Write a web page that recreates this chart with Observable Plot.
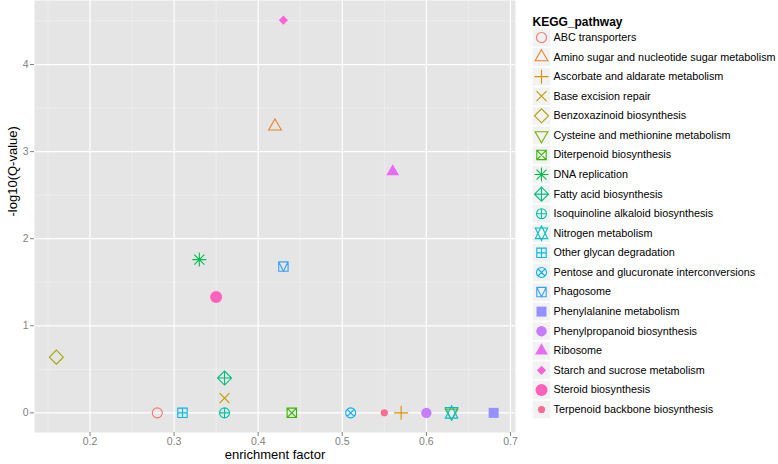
<!DOCTYPE html>
<html>
<head>
<meta charset="utf-8">
<script src="https://cdn.jsdelivr.net/npm/d3@7"></script>
<script src="https://cdn.jsdelivr.net/npm/@observablehq/plot@0.6"></script>
<style>
  html, body { margin: 0; padding: 0; background: #ffffff; }
  #wrap { display: flex; flex-direction: row; width: 778px; height: 464px; }
  svg { display: block; }
</style>
</head>
<body>
<div id="wrap"></div>
<script>
// ---------- data ----------
const pathways = [
  "ABC transporters",
  "Amino sugar and nucleotide sugar metabolism",
  "Ascorbate and aldarate metabolism",
  "Base excision repair",
  "Benzoxazinoid biosynthesis",
  "Cysteine and methionine metabolism",
  "Diterpenoid biosynthesis",
  "DNA replication",
  "Fatty acid biosynthesis",
  "Isoquinoline alkaloid biosynthesis",
  "Nitrogen metabolism",
  "Other glycan degradation",
  "Pentose and glucuronate interconversions",
  "Phagosome",
  "Phenylalanine metabolism",
  "Phenylpropanoid biosynthesis",
  "Ribosome",
  "Starch and sucrose metabolism",
  "Steroid biosynthesis",
  "Terpenoid backbone biosynthesis"
];
const enrichmentFactor = [0.28, 0.42, 0.57, 0.36, 0.16, 0.63, 0.44, 0.33, 0.36, 0.36, 0.63, 0.31, 0.51, 0.43, 0.68, 0.60, 0.56, 0.43, 0.35, 0.55];
const negLog10Q = [0, 3.29, 0, 0.17, 0.64, 0, 0, 1.76, 0.40, 0, 0, 0, 0, 1.68, 0, 0, 2.77, 4.51, 1.33, 0];
const palette = ["#F8766D","#EA8331","#D89000","#C09B00","#A3A500","#7CAE00","#39B600","#00BB4E","#00BF7D","#00C1A3",
                 "#00BFC4","#00BAE0","#00B0F6","#35A2FF","#9590FF","#C77CFF","#E76BF3","#FA62DB","#FF62BC","#FF6C91"];
const xTicks = [0.2, 0.3, 0.4, 0.5, 0.6, 0.7];
const xMinor = [0.15, 0.25, 0.35, 0.45, 0.55, 0.65];
const yTicks = [0, 1, 2, 3, 4];
const yMinor = [0.5, 1.5, 2.5, 3.5, 4.5];
const xLabel = "enrichment factor";
const yLabel = "-log10(Q-value)";
const legendTitle = "KEGG_pathway";

// ---------- ggplot-like point shapes (R pch 1..20) ----------
const circ = (c, r) => { c.moveTo(r, 0); c.arc(0, 0, r, 0, 2 * Math.PI); };
const line = (c, a, b, d, e) => { c.moveTo(a, b); c.lineTo(d, e); };
const poly = (c, pts) => { c.moveTo(pts[0][0], pts[0][1]); for (let i = 1; i < pts.length; i++) c.lineTo(pts[i][0], pts[i][1]); c.closePath(); };
const sq = (c, h) => poly(c, [[-h, -h], [h, -h], [h, h], [-h, h]]);
const plus = (c, h) => { line(c, -h, 0, h, 0); line(c, 0, -h, 0, h); };
const cross = (c, h) => { line(c, -h, -h, h, h); line(c, -h, h, h, -h); };
const diam = (c, h) => poly(c, [[0, -h], [h, 0], [0, h], [-h, 0]]);
const triUp = (c) => poly(c, [[0, -7.4], [6.4, 3.7], [-6.4, 3.7]]);
const triDown = (c) => poly(c, [[0, 7.4], [6.4, -3.7], [-6.4, -3.7]]);
function mk(fn, filled) {
  return {
    filled,
    draw(context, size) {
      const k = Math.sqrt(size / Math.PI) / 5;
      const c = {
        moveTo: (x, y) => context.moveTo(x * k, y * k),
        lineTo: (x, y) => context.lineTo(x * k, y * k),
        arc: (x, y, r, a0, a1) => context.arc(x * k, y * k, r * k, a0, a1),
        closePath: () => context.closePath()
      };
      fn(c);
    }
  };
}
const symbols = [
  mk(c => circ(c, 5), false),                                  // 1
  mk(c => triUp(c), false),                                    // 2
  mk(c => plus(c, 7), false),                                  // 3
  mk(c => cross(c, 5), false),                                 // 4
  mk(c => diam(c, 7), false),                                  // 5
  mk(c => triDown(c), false),                                  // 6
  mk(c => { sq(c, 4.7); cross(c, 4.7); }, false),              // 7
  mk(c => { plus(c, 7); cross(c, 5); }, false),                // 8
  mk(c => { diam(c, 7); plus(c, 7); }, false),                 // 9
  mk(c => { circ(c, 5); plus(c, 5); }, false),                 // 10
  mk(c => { poly(c, [[0, -7.2], [6.2, 5.3], [-6.2, 5.3]]); poly(c, [[0, 7.2], [6.2, -5.3], [-6.2, -5.3]]); }, false), // 11
  mk(c => { sq(c, 4.7); plus(c, 4.7); }, false),               // 12
  mk(c => { circ(c, 5); cross(c, 3.54); }, false),             // 13
  mk(c => { sq(c, 4.7); c.moveTo(-4.7, -4.7); c.lineTo(0, 4.7); c.lineTo(4.7, -4.7); }, false), // 14
  mk(c => sq(c, 5), true),                                     // 15
  mk(c => circ(c, 5.2), true),                                 // 16
  mk(c => triUp(c), true),                                     // 17
  mk(c => diam(c, 4.6), true),                                 // 18
  mk(c => circ(c, 6), true),                                   // 19
  mk(c => circ(c, 3.6), true)                                  // 20
];

const data = pathways.map((p, i) => ({pathway: p, x: enrichmentFactor[i], y: negLog10Q[i], filled: symbols[i].filled}));
const openPts = data.filter(d => !d.filled);
const filledPts = data.filter(d => d.filled);

const FONT = "'Liberation Sans', Arial, Helvetica, sans-serif";
const symbolScale = {domain: pathways, range: symbols};
const colorScale = {domain: pathways, range: palette};

// ---------- main panel ----------
const main = Plot.plot({
  width: 520,
  height: 464,
  marginLeft: 34,
  marginRight: 5,
  marginTop: 0,
  marginBottom: 32,
  style: {fontFamily: FONT, background: "white"},
  x: {domain: [0.134, 0.706]},
  y: {domain: [-0.2255, 4.7355]},
  symbol: symbolScale,
  color: colorScale,
  marks: [
    Plot.frame({fill: "#E5E5E5", stroke: "none"}),
    Plot.ruleX(xMinor, {stroke: "#F2F2F2", strokeWidth: 0.6}),
    Plot.ruleY(yMinor, {stroke: "#F2F2F2", strokeWidth: 0.6}),
    Plot.ruleX(xTicks, {stroke: "white", strokeWidth: 1.2}),
    Plot.ruleY(yTicks, {stroke: "white", strokeWidth: 1.2}),
    Plot.axisX({ticks: xTicks, tickFormat: d => String(d), tickSize: 4, tickPadding: 1, fontSize: 10.5, color: "#7F7F7F", label: null}),
    Plot.axisY({ticks: yTicks, tickFormat: d => String(d), tickSize: 4, tickPadding: 2, fontSize: 10.5, color: "#7F7F7F", label: null}),
    Plot.text([xLabel], {text: d => d, frameAnchor: "bottom", dy: 26, fontSize: 13, fill: "black"}),
    Plot.text([yLabel], {text: d => d, frameAnchor: "left", dx: -22, rotate: -90, fontSize: 13, fill: "black"}),
    Plot.dot(openPts, {x: "x", y: "y", symbol: "pathway", stroke: "pathway", r: 5, strokeWidth: 1.1, fill: "none"}),
    Plot.dot(filledPts, {x: "x", y: "y", symbol: "pathway", fill: "pathway", r: 5, stroke: "none"})
  ]
});

// ---------- legend ----------
const legend = Plot.plot({
  width: 258,
  height: 464,
  margin: 0,
  style: {fontFamily: FONT, background: "white"},
  x: {axis: null},
  y: {type: "band", domain: pathways, range: [27.2, 418.8], padding: 0, round: false, axis: null},
  symbol: symbolScale,
  color: colorScale,
  marks: [
    Plot.text([legendTitle], {text: d => d, frameAnchor: "top-left", dx: 12, dy: 17, fontWeight: "bold", fontSize: 12, textAnchor: "start", fill: "black"}),
    Plot.dot(pathways, {y: d => d, frameAnchor: "left", dx: 21, symbol: "square", r: 10, fill: "#F2F2F2", stroke: "none"}),
    Plot.dot(openPts, {y: "pathway", frameAnchor: "left", dx: 21, symbol: "pathway", stroke: "pathway", r: 5, strokeWidth: 1.1, fill: "none"}),
    Plot.dot(filledPts, {y: "pathway", frameAnchor: "left", dx: 21, symbol: "pathway", fill: "pathway", r: 5, stroke: "none"}),
    Plot.text(pathways, {y: d => d, text: d => d, frameAnchor: "left", dx: 33, textAnchor: "start", fontSize: 10.8, fill: "black"})
  ]
});

const wrap = document.getElementById("wrap");
wrap.appendChild(main);
wrap.appendChild(legend);
</script>
</body>
</html>
